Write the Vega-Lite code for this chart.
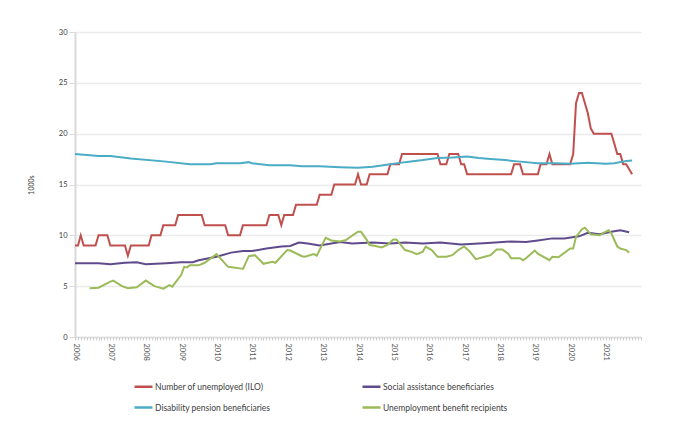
{
  "$schema": "https://vega.github.io/schema/vega-lite/v6.json",
  "width": 566,
  "height": 305,
  "autosize": {"type": "none"},
  "padding": {"left": 75, "top": 32, "right": 39, "bottom": 88},
  "background": "white",
  "config": {
    "view": {"stroke": null},
    "font": "Lato",
    "axis": {"labelFont": "Lato", "titleFont": "Lato"},
    "legend": {"labelFont": "Lato"}
  },
  "datasets": {
    "red": [
      {"d": "2006-01", "v": 9}, {"d": "2006-02", "v": 9}, {"d": "2006-03", "v": 10}, {"d": "2006-04", "v": 9},
      {"d": "2006-08", "v": 9}, {"d": "2006-09", "v": 10}, {"d": "2006-12", "v": 10}, {"d": "2007-01", "v": 9},
      {"d": "2007-06", "v": 9}, {"d": "2007-07", "v": 8}, {"d": "2007-08", "v": 9}, {"d": "2008-02", "v": 9},
      {"d": "2008-03", "v": 10}, {"d": "2008-06", "v": 10}, {"d": "2008-07", "v": 11}, {"d": "2008-11", "v": 11},
      {"d": "2008-12", "v": 12}, {"d": "2009-08", "v": 12}, {"d": "2009-09", "v": 11}, {"d": "2010-04", "v": 11},
      {"d": "2010-05", "v": 10}, {"d": "2010-09", "v": 10}, {"d": "2010-10", "v": 11}, {"d": "2011-06", "v": 11},
      {"d": "2011-07", "v": 12}, {"d": "2011-10", "v": 12}, {"d": "2011-11", "v": 11}, {"d": "2011-12", "v": 12},
      {"d": "2012-03", "v": 12}, {"d": "2012-04", "v": 13}, {"d": "2012-11", "v": 13}, {"d": "2012-12", "v": 14},
      {"d": "2013-04", "v": 14}, {"d": "2013-05", "v": 15}, {"d": "2013-12", "v": 15}, {"d": "2014-01", "v": 16},
      {"d": "2014-02", "v": 15}, {"d": "2014-04", "v": 15}, {"d": "2014-05", "v": 16}, {"d": "2014-11", "v": 16},
      {"d": "2014-12", "v": 17}, {"d": "2015-03", "v": 17}, {"d": "2015-04", "v": 18}, {"d": "2016-04", "v": 18},
      {"d": "2016-05", "v": 17}, {"d": "2016-07", "v": 17}, {"d": "2016-08", "v": 18}, {"d": "2016-11", "v": 18},
      {"d": "2016-12", "v": 17}, {"d": "2017-01", "v": 17}, {"d": "2017-02", "v": 16}, {"d": "2018-05", "v": 16},
      {"d": "2018-06", "v": 17}, {"d": "2018-08", "v": 17}, {"d": "2018-09", "v": 16}, {"d": "2019-02", "v": 16},
      {"d": "2019-03", "v": 17}, {"d": "2019-05", "v": 17}, {"d": "2019-06", "v": 18}, {"d": "2019-07", "v": 17},
      {"d": "2020-01", "v": 17}, {"d": "2020-02", "v": 18}, {"d": "2020-03", "v": 23}, {"d": "2020-04", "v": 24},
      {"d": "2020-05", "v": 24}, {"d": "2020-06", "v": 23}, {"d": "2020-07", "v": 22}, {"d": "2020-08", "v": 20.5},
      {"d": "2020-09", "v": 20}, {"d": "2021-03", "v": 20}, {"d": "2021-04", "v": 19}, {"d": "2021-05", "v": 18},
      {"d": "2021-06", "v": 18}, {"d": "2021-07", "v": 17}, {"d": "2021-08", "v": 17}, {"d": "2021-09", "v": 16.5},
      {"d": "2021-10", "v": 16}
    ],
    "purple": [
      {"d": "2006-01", "v": 7.25}, {"d": "2006-09", "v": 7.25}, {"d": "2007-01", "v": 7.15}, {"d": "2007-06", "v": 7.3},
      {"d": "2007-10", "v": 7.35}, {"d": "2008-01", "v": 7.15}, {"d": "2008-08", "v": 7.25}, {"d": "2009-01", "v": 7.35},
      {"d": "2009-05", "v": 7.35}, {"d": "2009-07", "v": 7.55}, {"d": "2010-01", "v": 7.9}, {"d": "2010-06", "v": 8.3},
      {"d": "2010-10", "v": 8.45}, {"d": "2011-01", "v": 8.45}, {"d": "2011-06", "v": 8.7}, {"d": "2011-11", "v": 8.9},
      {"d": "2012-02", "v": 8.95}, {"d": "2012-05", "v": 9.3}, {"d": "2012-08", "v": 9.2}, {"d": "2012-12", "v": 9.0},
      {"d": "2013-04", "v": 9.2}, {"d": "2013-07", "v": 9.35}, {"d": "2013-11", "v": 9.2}, {"d": "2014-06", "v": 9.3},
      {"d": "2014-12", "v": 9.2}, {"d": "2015-05", "v": 9.3}, {"d": "2015-11", "v": 9.2}, {"d": "2016-05", "v": 9.3},
      {"d": "2016-12", "v": 9.1}, {"d": "2017-09", "v": 9.25}, {"d": "2018-05", "v": 9.4}, {"d": "2018-10", "v": 9.35},
      {"d": "2019-02", "v": 9.5}, {"d": "2019-07", "v": 9.7}, {"d": "2019-11", "v": 9.7}, {"d": "2020-04", "v": 9.9},
      {"d": "2020-07", "v": 10.25}, {"d": "2020-11", "v": 10.1}, {"d": "2021-03", "v": 10.35}, {"d": "2021-06", "v": 10.5},
      {"d": "2021-09", "v": 10.3}
    ],
    "blue": [
      {"d": "2006-01", "v": 18.0}, {"d": "2006-09", "v": 17.8}, {"d": "2007-01", "v": 17.8}, {"d": "2007-08", "v": 17.55},
      {"d": "2008-08", "v": 17.25}, {"d": "2009-04", "v": 17.0}, {"d": "2009-11", "v": 17.0}, {"d": "2010-01", "v": 17.1},
      {"d": "2010-09", "v": 17.1}, {"d": "2010-12", "v": 17.2}, {"d": "2011-01", "v": 17.1}, {"d": "2011-07", "v": 16.9},
      {"d": "2012-02", "v": 16.9}, {"d": "2012-06", "v": 16.8}, {"d": "2012-12", "v": 16.8}, {"d": "2013-07", "v": 16.7},
      {"d": "2014-01", "v": 16.65}, {"d": "2014-06", "v": 16.75}, {"d": "2014-12", "v": 17.0}, {"d": "2015-05", "v": 17.2},
      {"d": "2015-11", "v": 17.4}, {"d": "2016-04", "v": 17.6}, {"d": "2016-09", "v": 17.65}, {"d": "2017-02", "v": 17.75},
      {"d": "2017-06", "v": 17.6}, {"d": "2017-10", "v": 17.5}, {"d": "2018-03", "v": 17.4}, {"d": "2018-08", "v": 17.25},
      {"d": "2019-02", "v": 17.1}, {"d": "2019-08", "v": 17.1}, {"d": "2020-01", "v": 17.05}, {"d": "2020-07", "v": 17.15},
      {"d": "2021-01", "v": 17.05}, {"d": "2021-04", "v": 17.1}, {"d": "2021-08", "v": 17.3}, {"d": "2021-10", "v": 17.35}
    ],
    "green": [
      {"d": "2006-06", "v": 4.8}, {"d": "2006-09", "v": 4.85}, {"d": "2007-01", "v": 5.45}, {"d": "2007-02", "v": 5.55},
      {"d": "2007-05", "v": 5.0}, {"d": "2007-07", "v": 4.8}, {"d": "2007-10", "v": 4.9}, {"d": "2008-01", "v": 5.55},
      {"d": "2008-04", "v": 5.0}, {"d": "2008-07", "v": 4.75}, {"d": "2008-09", "v": 5.1}, {"d": "2008-10", "v": 4.95},
      {"d": "2009-01", "v": 6.1}, {"d": "2009-02", "v": 6.9}, {"d": "2009-03", "v": 6.85}, {"d": "2009-04", "v": 7.05},
      {"d": "2009-07", "v": 7.05}, {"d": "2009-09", "v": 7.3}, {"d": "2010-01", "v": 8.15}, {"d": "2010-05", "v": 6.9},
      {"d": "2010-09", "v": 6.75}, {"d": "2010-10", "v": 6.7}, {"d": "2010-12", "v": 7.95}, {"d": "2011-02", "v": 8.05},
      {"d": "2011-05", "v": 7.2}, {"d": "2011-08", "v": 7.4}, {"d": "2011-09", "v": 7.3}, {"d": "2012-01", "v": 8.55},
      {"d": "2012-02", "v": 8.5}, {"d": "2012-06", "v": 7.95}, {"d": "2012-07", "v": 7.9}, {"d": "2012-10", "v": 8.15},
      {"d": "2012-11", "v": 8.0}, {"d": "2013-02", "v": 9.75}, {"d": "2013-04", "v": 9.5}, {"d": "2013-07", "v": 9.4},
      {"d": "2013-09", "v": 9.55}, {"d": "2014-01", "v": 10.35}, {"d": "2014-02", "v": 10.35}, {"d": "2014-04", "v": 9.55},
      {"d": "2014-05", "v": 9.05}, {"d": "2014-07", "v": 8.95}, {"d": "2014-09", "v": 8.8}, {"d": "2014-11", "v": 9.05},
      {"d": "2015-01", "v": 9.6}, {"d": "2015-02", "v": 9.6}, {"d": "2015-05", "v": 8.55}, {"d": "2015-07", "v": 8.4},
      {"d": "2015-09", "v": 8.15}, {"d": "2015-11", "v": 8.4}, {"d": "2015-12", "v": 8.9}, {"d": "2016-02", "v": 8.55},
      {"d": "2016-04", "v": 7.9}, {"d": "2016-07", "v": 7.9}, {"d": "2016-09", "v": 8.05}, {"d": "2016-11", "v": 8.55},
      {"d": "2017-01", "v": 8.9}, {"d": "2017-03", "v": 8.4}, {"d": "2017-05", "v": 7.65}, {"d": "2017-08", "v": 7.9},
      {"d": "2017-10", "v": 8.05}, {"d": "2017-12", "v": 8.6}, {"d": "2018-02", "v": 8.6}, {"d": "2018-04", "v": 8.2},
      {"d": "2018-05", "v": 7.75}, {"d": "2018-08", "v": 7.75}, {"d": "2018-09", "v": 7.55}, {"d": "2018-10", "v": 7.75},
      {"d": "2019-01", "v": 8.5}, {"d": "2019-02", "v": 8.2}, {"d": "2019-06", "v": 7.55}, {"d": "2019-07", "v": 7.9},
      {"d": "2019-09", "v": 7.85}, {"d": "2020-01", "v": 8.7}, {"d": "2020-02", "v": 8.7}, {"d": "2020-03", "v": 9.85},
      {"d": "2020-05", "v": 10.6}, {"d": "2020-06", "v": 10.75}, {"d": "2020-08", "v": 10.1}, {"d": "2020-11", "v": 10.0},
      {"d": "2020-12", "v": 10.2}, {"d": "2021-02", "v": 10.5}, {"d": "2021-03", "v": 10.2}, {"d": "2021-05", "v": 8.9},
      {"d": "2021-06", "v": 8.7}, {"d": "2021-08", "v": 8.55}, {"d": "2021-09", "v": 8.3}
    ]
  },
  "encoding": {
    "x": {
      "field": "d",
      "type": "temporal",
      "scale": {
        "type": "utc",
        "domain": [
          {"year": 2006, "month": 1, "date": 1, "utc": true},
          {"year": 2022, "month": 1, "date": 1, "utc": true}
        ]
      },
      "axis": {
        "title": null,
        "grid": false,
        "tickCount": {"interval": "month", "step": 1},
        "labelExpr": "utcmonth(datum.value) === 0 && utcyear(datum.value) < 2022 ? utcFormat(datum.value, '%Y') : ''",
        "labelAngle": 90,
        "labelAlign": "left",
        "labelBaseline": "middle",
        "labelPadding": 3,
        "labelOverlap": false,
        "labelFlush": false,
        "labelBound": false,
        "labelFontSize": 7.5,
        "labelColor": "#595959",
        "tickSize": 3,
        "tickColor": "#bfbfbf",
        "tickWidth": 0.8,
        "domainColor": "#d9d9d9",
        "domainWidth": 1.5
      }
    },
    "y": {
      "field": "v",
      "type": "quantitative",
      "scale": {"domain": [0, 30], "nice": false},
      "axis": {
        "title": "1000s",
        "values": [0, 5, 10, 15, 20, 25, 30],
        "grid": true,
        "gridColor": "#ebebeb",
        "gridWidth": 1.3,
        "domainColor": "#d9d9d9",
        "domainWidth": 2,
        "tickSize": 6,
        "tickColor": "#d9d9d9",
        "labelPadding": 2,
        "labelFontSize": 7.5,
        "labelColor": "#404040",
        "titleFontSize": 7,
        "titleFontWeight": "normal",
        "titleColor": "#404040",
        "titlePadding": 24
      }
    }
  },
  "layer": [
    {
      "data": {"name": "red"},
      "mark": {"type": "line", "strokeWidth": 2},
      "encoding": {
        "color": {
          "datum": "Number of unemployed (ILO)",
          "type": "nominal",
          "scale": {
            "domain": ["Number of unemployed (ILO)", "Social assistance beneficiaries", "Disability pension beneficiaries", "Unemployment benefit recipients"],
            "range": ["#C0504D", "#5F4B8B", "#4BACC6", "#9BBB59"]
          },
          "legend": {
            "title": null,
            "orient": "none",
            "legendX": 58,
            "legendY": 344,
            "columns": 2,
            "direction": "horizontal",
            "columnPadding": 86,
            "rowPadding": 5,
            "symbolType": "stroke",
            "symbolSize": 324,
            "symbolStrokeWidth": 2.5,
            "labelFontSize": 8.5,
            "labelColor": "#404040",
            "labelOffset": 1
          }
        }
      }
    },
    {
      "data": {"name": "purple"},
      "mark": {"type": "line", "strokeWidth": 2},
      "encoding": {"color": {"datum": "Social assistance beneficiaries", "type": "nominal"}}
    },
    {
      "data": {"name": "blue"},
      "mark": {"type": "line", "strokeWidth": 2},
      "encoding": {"color": {"datum": "Disability pension beneficiaries", "type": "nominal"}}
    },
    {
      "data": {"name": "green"},
      "mark": {"type": "line", "strokeWidth": 2},
      "encoding": {"color": {"datum": "Unemployment benefit recipients", "type": "nominal"}}
    }
  ]
}
